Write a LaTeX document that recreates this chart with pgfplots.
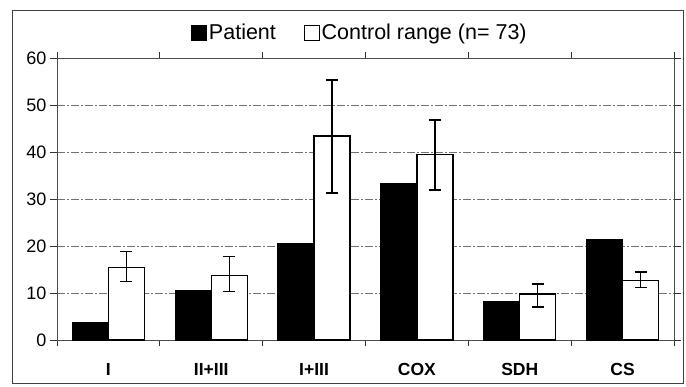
\documentclass[border=0pt]{standalone}
\usepackage{pgfplots}
\pgfplotsset{compat=1.18}
\usepackage{fontspec}
\setmainfont{Liberation Sans}
\begin{document}
\begin{tikzpicture}
\path[use as bounding box] (0,0) rectangle (686pt,-386pt);
\draw[black!75, line width=0.8pt] (12pt,-10pt) rectangle (683pt,-383pt);
\begin{axis}[
  at={(57pt,-340pt)}, anchor=south west,
  scale only axis, width=617pt, height=282pt,
  ymin=0, ymax=60, ytick={0,10,...,60},
  xmin=-0.5, xmax=5.5,
  xtick={0,...,5}, xticklabels={I, II+III, I+III, COX, SDH, CS},
  x tick label style={font=\bfseries\fontsize{17.5}{18}\selectfont, yshift=-13pt},
  y tick label style={font=\fontsize{18}{18}\selectfont},
  /pgf/number format/assume math mode=true,
  major x tick style={draw=none},
  minor xtick={-0.5,0.5,1.5,2.5,3.5,4.5,5.5},
  tick align=outside, major tick length=7pt, minor tick length=6pt,
  tick style={black!80, line width=0.8pt},
  axis line style={black!70, line width=0.8pt},
  ymajorgrids,
  grid style={black!55, line width=0.6pt, dash pattern=on 8pt off 2pt on 2pt off 2pt},
  legend style={at={(0.491,1.089)}, anchor=center, draw=none, fill=none,
    font=\fontsize{21.5}{22}\selectfont, legend columns=2,
    /tikz/every even column/.append style={column sep=26pt}},
  legend image code/.code={\draw[#1, line width=0.8pt] (-4pt,-7pt) rectangle (11pt,8pt);},
  error bars/error bar style={black, line width=1.3pt},
  error bars/error mark options={rotate=90, mark size=6pt, line width=1.3pt, black},
]
\addplot[ybar, bar width=0.35, bar shift=0, draw=black, fill=black, line width=1.2pt]
  coordinates {(-0.175,3.8) (0.825,10.6) (1.825,20.6) (2.825,33.3) (3.825,8.1) (4.825,21.3)};
\addlegendentry{Patient}
\addplot[ybar, bar width=0.35, bar shift=0, draw=black, fill=white, line width=1.2pt,
  error bars/.cd, y dir=both, y explicit]
  coordinates {
    (0.175,15.5) += (0,3.3) -= (0,3.0)
    (1.175,13.8) += (0,4.0) -= (0,3.5)
    (2.175,43.4) += (0,11.9) -= (0,12.1)
    (3.175,39.4) += (0,7.4) -= (0,7.5)
    (4.175,9.8) += (0,2.1) -= (0,2.8)
    (5.175,12.6) += (0,1.9) -= (0,1.5)
  };
\addlegendentry{Control range (n= 73)}
\end{axis}
\end{tikzpicture}
\end{document}
